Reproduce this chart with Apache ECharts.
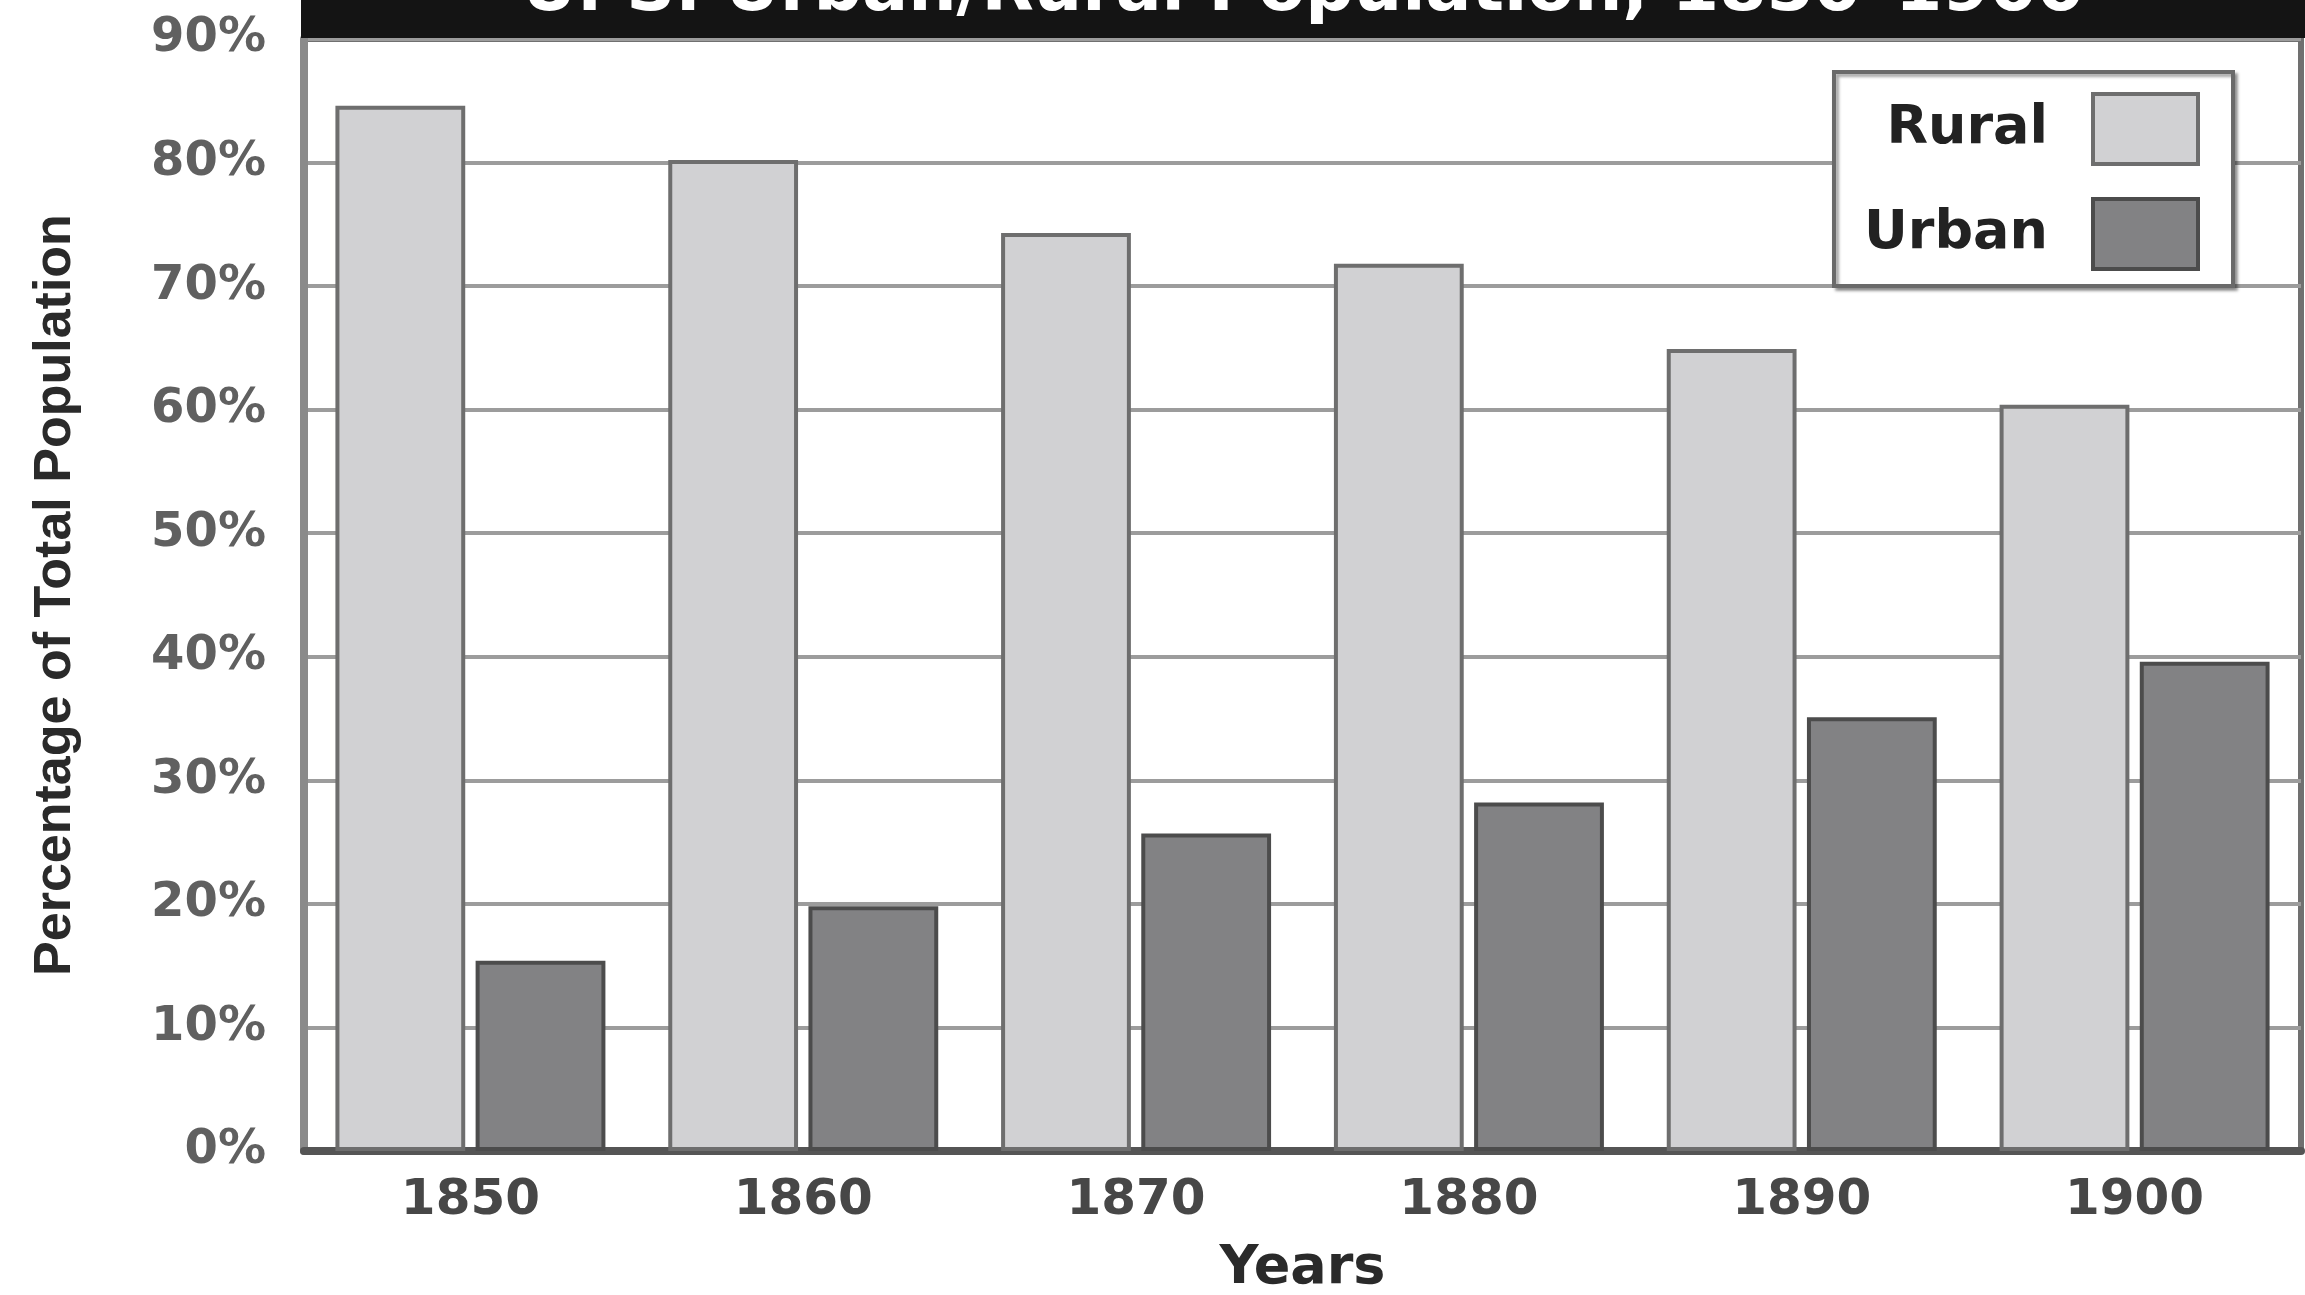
<!DOCTYPE html>
<html>
<head>
<meta charset="utf-8">
<title>U. S. Urban/Rural Population, 1850–1900</title>
<script src="https://cdn.jsdelivr.net/npm/echarts@6/dist/echarts.min.js"></script>
<style>
  html, body { margin: 0; padding: 0; background: #ffffff; }
  #chart { width: 2305px; height: 1295px; }
</style>
</head>
<body>
<div id="chart"></div>
<script>
// Census years on the category axis
const years = ['1850', '1860', '1870', '1880', '1890', '1900'];
// Share of total U.S. population, in percent
const ruralShare = [84.6, 80.2, 74.3, 71.8, 64.9, 60.4];
const urbanShare = [15.4, 19.8, 25.7, 28.2, 35.1, 39.6];
// Value axis range and step (percent)
const yMin = 0;
const yMax = 90;
const yStep = 10;

const chartTitle = 'U. S. Urban/Rural Population, 1850–1900';

const chart = echarts.init(document.getElementById('chart'), null, { renderer: 'canvas' });

const wideBold = '"DejaVu Sans", "Liberation Sans", sans-serif';

chart.setOption({
  backgroundColor: '#ffffff',
  animation: false,
  grid: {
    left: 304,
    right: 4,
    top: 39,
    bottom: 144,
    outerBoundsMode: 'none',
    containLabel: false,
    show: true,
    borderColor: '#707070',
    borderWidth: 6,
    backgroundColor: 'transparent'
  },
  graphic: [
    {
      type: 'rect',
      left: 301,
      top: 0,
      shape: { width: 2010, height: 38 },
      style: { fill: '#141414' },
      z: 10
    },
    {
      type: 'text',
      x: 1303,
      y: 26,
      style: {
        text: chartTitle,
        fill: '#ffffff',
        font: 'bold 68px ' + wideBold,
        align: 'center',
        verticalAlign: 'bottom'
      },
      z: 11
    }
  ],
  legend: {
    data: ['Rural', 'Urban'],
    orient: 'vertical',
    align: 'right',
    right: 72,
    top: 72,
    itemWidth: 105,
    itemHeight: 70,
    itemGap: 31,
    padding: [20, 33, 15, 30],
    backgroundColor: '#ffffff',
    borderColor: '#6a6a6a',
    borderWidth: 4,
    shadowColor: 'rgba(0,0,0,0.35)',
    shadowOffsetX: 3,
    shadowOffsetY: 3,
    shadowBlur: 3,
    icon: 'rect',
    itemStyle: { borderWidth: 4 },
    textStyle: {
      fontFamily: wideBold,
      fontWeight: 'bold',
      fontSize: 54,
      color: '#222222',
      padding: [0, 40, 0, 0]
    }
  },
  xAxis: {
    type: 'category',
    data: years,
    name: 'Years',
    nameLocation: 'middle',
    nameGap: 91,
    nameTextStyle: {
      fontFamily: wideBold,
      fontWeight: 'bold',
      fontSize: 54,
      color: '#2a2a2a'
    },
    axisLine: { show: true, lineStyle: { color: '#555555', width: 8 } },
    axisTick: { show: false },
    axisLabel: {
      margin: 25,
      fontFamily: wideBold,
      fontWeight: 'bold',
      fontSize: 50,
      color: '#474747'
    },
    splitLine: { show: false }
  },
  yAxis: {
    type: 'value',
    min: yMin,
    max: yMax,
    interval: yStep,
    name: 'Percentage of Total Population',
    nameLocation: 'middle',
    nameRotate: 90,
    nameGap: 222,
    nameTextStyle: {
      fontFamily: '"Liberation Sans", Arial, sans-serif',
      fontWeight: 'bold',
      fontSize: 52,
      color: '#2a2a2a'
    },
    axisLine: { show: true, lineStyle: { color: '#8a8a8a', width: 8 } },
    axisTick: { show: false },
    axisLabel: {
      margin: 38,
      formatter: '{value}%',
      fontFamily: wideBold,
      fontWeight: 'bold',
      fontSize: 48,
      color: '#606060'
    },
    splitLine: { show: true, lineStyle: { color: '#9c9c9c', width: 4 } }
  },
  series: [
    {
      name: 'Rural',
      type: 'bar',
      data: ruralShare,
      barWidth: '39%',
      barGap: '8%',
      barCategoryGap: '19%',
      itemStyle: { color: '#d1d1d3', borderColor: '#6e6e6e', borderWidth: 4 }
    },
    {
      name: 'Urban',
      type: 'bar',
      data: urbanShare,
      barWidth: '39%',
      barGap: '8%',
      itemStyle: { color: '#828284', borderColor: '#4c4c4c', borderWidth: 4 }
    }
  ]
});
</script>
</body>
</html>
